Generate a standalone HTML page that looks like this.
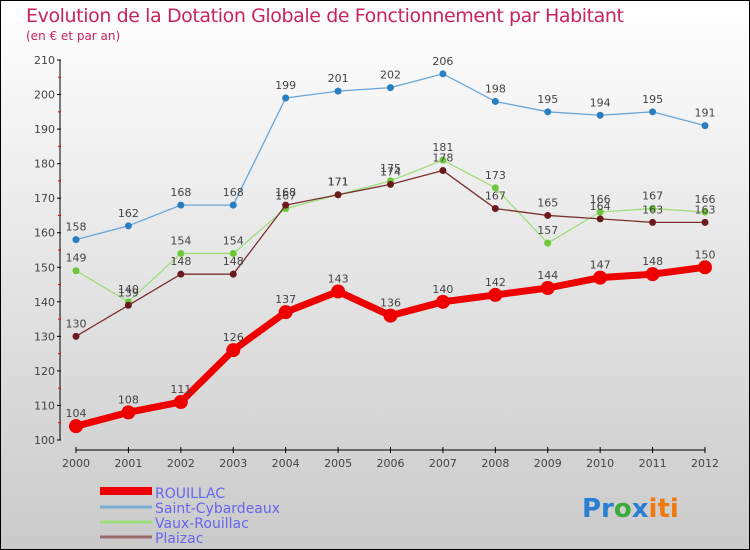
<!DOCTYPE html>
<html><head><meta charset="utf-8"><style>
body{margin:0}
#wrap{width:750px;height:550px;position:relative;overflow:hidden}
text{font-family:"DejaVu Sans","Liberation Sans",sans-serif}
</style></head><body>
<div id="wrap">
<svg id="svg" width="750" height="550" xmlns="http://www.w3.org/2000/svg">
<defs><linearGradient id="bg" x1="0" y1="0" x2="0" y2="1"><stop offset="0" stop-color="#ffffff"/><stop offset="1" stop-color="#cacaca"/></linearGradient></defs>
<rect x="0.5" y="0.5" width="749" height="549" fill="url(#bg)" stroke="#000"/>
<text x="26" y="22" font-size="19" fill="#c8245a" textLength="598">Evolution de la Dotation Globale de Fonctionnement par Habitant</text>
<text x="26" y="40" font-size="12" fill="#c8245a">(en € et par an)</text>
<g id="axes"></g><g id="series"></g>
<g>
<rect x="100" y="487" width="52" height="8" fill="#e00"/>
<text x="155" y="498" font-size="14" fill="#6666ee">ROUILLAC</text>
<line x1="100" y1="507" x2="152" y2="507" stroke="#7aaed6" stroke-width="3"/>
<text x="155" y="513" font-size="14" fill="#6666ee">Saint-Cybardeaux</text>
<line x1="100" y1="522" x2="152" y2="522" stroke="#9ede7a" stroke-width="3"/>
<text x="155" y="528" font-size="14" fill="#6666ee">Vaux-Rouillac</text>
<line x1="100" y1="537" x2="152" y2="537" stroke="#9a6a6a" stroke-width="3"/>
<text x="155" y="543" font-size="14" fill="#6666ee">Plaizac</text>
</g>
<g font-size="26" font-weight="bold">
<text x="582" y="517"><tspan fill="#2a7fd4">Pr</tspan><tspan fill="#3aaa3a">o</tspan><tspan fill="#2a7fd4">x</tspan><tspan fill="#f07a10">iti</tspan></text>
</g>
</svg></div>
<script>
const years=["2000","2001","2002","2003","2004","2005","2006","2007","2008","2009","2010","2011","2012"];
const yTicks=[100,110,120,130,140,150,160,170,180,190,200,210];
const rouillac=[104,108,111,126,137,143,136,140,142,144,147,148,150];
const saintCybardeaux=[158,162,168,168,199,201,202,206,198,195,194,195,191];
const vauxRouillac=[149,140,154,154,167,171,175,181,173,157,166,167,166];
const plaizac=[130,139,148,148,168,171,174,178,167,165,164,163,163];
const NS="http://www.w3.org/2000/svg";
const X=i=>76+i*(705-76)/(years.length-1);
const Y=v=>440-(v-100)*(380/110);
function mk(t,a,p){const e=document.createElementNS(NS,t);for(const k in a)e.setAttribute(k,a[k]);p.appendChild(e);return e;}
const ax=document.getElementById('axes');
let yl=mk('line',{x1:60,y1:Y(210),x2:60,y2:Y(100),stroke:'#000','stroke-width':1},ax);


yTicks.forEach(v=>{
 mk('line',{x1:57,y1:Y(v),x2:61,y2:Y(v),stroke:'#000'},ax);
 if(v<210)mk('line',{x1:58,y1:Y(v+5),x2:61,y2:Y(v+5),stroke:'#e00'},ax);
 const t=mk('text',{x:55,y:Y(v)+4,'font-size':11,fill:'#444','text-anchor':'end'},ax);t.textContent=v;
 
 
});
let xl=mk('line',{x1:X(0),y1:450,x2:X(12),y2:450,stroke:'#000'},ax);


years.forEach((y,i)=>{
 mk('line',{x1:X(i),y1:447,x2:X(i),y2:453,stroke:'#000'},ax);
 const t=mk('text',{x:X(i),y:467,'font-size':11,fill:'#444','text-anchor':'middle'},ax);t.textContent=y;
 
 
});
const sg=document.getElementById('series');
function series(name,data,color,dot,w,r,fs){
 const g=mk('g',{},sg);
 
 
 mk('polyline',{points:data.map((v,i)=>X(i)+','+Y(v)).join(' '),fill:'none',stroke:color,'stroke-width':w,'stroke-linejoin':'round'},g);
 data.forEach((v,i)=>{
  const c=mk('circle',{cx:X(i),cy:Y(v),r:r,fill:dot},g);
  
  
  const t=mk('text',{x:X(i),y:Y(v)-9,'font-size':fs,fill:'#444','text-anchor':'middle'},g);t.textContent=v;
  
  
 });
}
series('saint-cybardeaux',saintCybardeaux,'#6aa6d8','#2a7fc0',1.3,3.5,11);
series('vaux-rouillac',vauxRouillac,'#9ede7a','#6cc83a',1.3,3.5,11);
series('plaizac',plaizac,'#7a3030','#6a1a1a',1.3,3.5,11);
series('rouillac',rouillac,'#ee0000','#ee0000',7,7,11);
</script>
</body></html>
